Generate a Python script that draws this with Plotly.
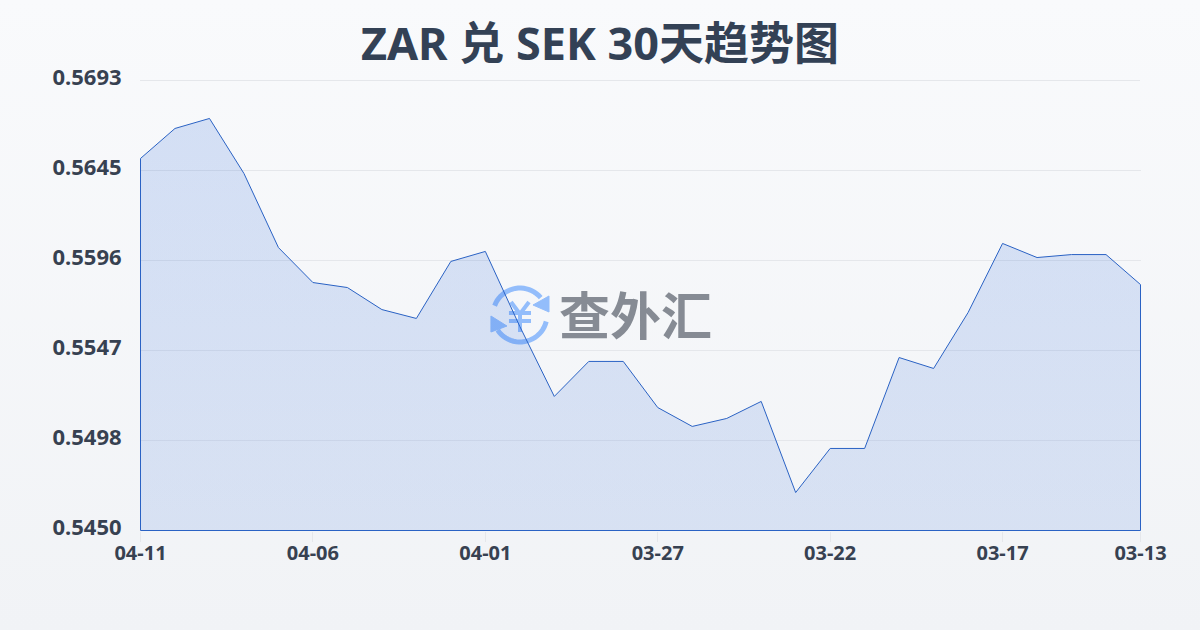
import math
import plotly.graph_objects as go

dates = ["04-11","04-10","04-09","04-08","04-07","04-06","04-05","04-04","04-03","04-02",
         "04-01","03-31","03-30","03-29","03-28","03-27","03-26","03-25","03-24","03-23",
         "03-22","03-21","03-20","03-19","03-18","03-17","03-16","03-15","03-14","03-13"]
rates = [0.56509,0.56671,0.56725,0.56428,0.56028,0.55839,0.55812,0.55693,0.55645,0.55953,
         0.56007,0.55602,0.55224,0.55413,0.55413,0.55164,0.55062,0.55105,0.55197,0.54705,
         0.54943,0.54943,0.55434,0.55375,0.55677,0.56050,0.55974,0.55990,0.55990,0.55828]
x_ticks = ["04-11","04-06","04-01","03-27","03-22","03-17","03-13"]
y_ticks = [0.5450,0.54986,0.55472,0.55958,0.56444,0.5693]
y_labels = ["0.5450","0.5498","0.5547","0.5596","0.5645","0.5693"]
title = "ZAR 兑 SEK 30天趋势图"
brand = "查外汇"

FONT = "'Noto Sans', 'Noto Sans CJK SC'"
INK = "#374151"
GRID = "#e5e7eb"
base = y_ticks[0]

fig = go.Figure(go.Scatter(
    x=[dates[0]] + dates + [dates[-1], dates[0]],
    y=[base] + rates + [base, base],
    mode="lines", fill="toself",
    fillgradient=dict(type="vertical",
                      colorscale=[[0, "rgba(37,99,215,0.13)"], [1, "rgba(37,99,215,0.17)"]]),
    line=dict(color="#2a62c4", width=1), hoverinfo="skip"))

icon = "#93bdfb"
def px(x): return (x-140)/1001
def py(y): return (531-y)/451
def path(points, close=False):
    s = "M " + " L ".join(f"{px(a):.4f} {py(b):.4f}" for a,b in points)
    return s + (" Z" if close else "")
def arc(a0,a1,r=27,cx=520,cy=315):
    return [(cx+r*math.cos(math.radians(a)), cy+r*math.sin(math.radians(a))) for a in range(a0,a1,6)]
P = dict(type="path", xref="paper", yref="paper", layer="below")
ring = dict(color=icon, width=5)
yen = dict(color=icon, width=4)
shapes = [
    dict(P, path=path(arc(200,322)), line=ring),
    dict(P, path=path(arc(14,152)), line=ring),
    dict(P, path=path([(549,296),(549,312),(533,305)],True), fillcolor=icon, line=dict(color=icon,width=1)),
    dict(P, path=path([(491,316),(491,332),(507,326)],True), fillcolor=icon, line=dict(color=icon,width=1)),
    dict(P, path=path([(511,302),(520,314),(529,302)]), line=yen),
    dict(P, path=path([(520,314),(520,332)]), line=yen),
    dict(P, path=path([(509,313),(531,313)]), line=yen),
    dict(P, path=path([(509,321),(531,321)]), line=yen),
    dict(type="line", xref="paper", yref="y", x0=0, x1=0.999, y0=y_ticks[-1], y1=y_ticks[-1],
         layer="below", line=dict(color=GRID, width=1)),
]

# half a pixel of padding puts the outline on whole pixels
n = len(dates) - 1
x_pad = 0.5 * n / 1000
y_pad = 0.5 * (y_ticks[-1] - y_ticks[0]) / 450

fig.update_layout(
    width=1200, height=630,
    margin=dict(l=140, r=59, t=80, b=99),
    paper_bgcolor="rgba(0,0,0,0)", plot_bgcolor="rgba(0,0,0,0)",
    showlegend=False, font=dict(family=FONT, color=INK),
    shapes=shapes,
    title=dict(text=title, x=0.5, xanchor="center", y=0.929, yanchor="middle",
               font=dict(family=FONT, size=45, color="#334155", weight="bold")),
    xaxis=dict(type="category", categoryorder="array", categoryarray=dates,
               range=[-x_pad, n + x_pad], tickmode="array", tickvals=x_ticks, ticktext=x_ticks,
               showgrid=False, showline=False, zeroline=False, ticks="outside", ticklen=10,
               tickcolor=GRID, tickwidth=1, ticklabelstandoff=-6,
               tickfont=dict(family=FONT, size=20, color=INK, weight="bold")),
    yaxis=dict(range=[y_ticks[0] - y_pad, y_ticks[-1] + y_pad], tickmode="array",
               tickvals=y_ticks, ticktext=y_labels,
               showgrid=True, gridcolor=GRID, gridwidth=1, showline=False, zeroline=False,
               ticks="outside", ticklen=13, tickcolor="rgba(0,0,0,0)", ticklabelshift=-3,
               tickfont=dict(family=FONT, size=22, color=INK, weight="bold")),
    annotations=[
        dict(text=brand, xref="paper", yref="paper", x=px(635.5), y=py(315), xanchor="center", yanchor="middle",
             showarrow=False, font=dict(family=FONT, size=51, color="#868b94", weight="bold")),
    ])

fig.write_html("out.html", config={"displayModeBar": False}, post_script=
    "document.documentElement.style.height='100%';"
    "document.documentElement.style.background='linear-gradient(180deg,#f9fafc 0%,#f1f3f6 100%)';"
    "document.body.style.background='transparent';document.body.style.margin='0';")
